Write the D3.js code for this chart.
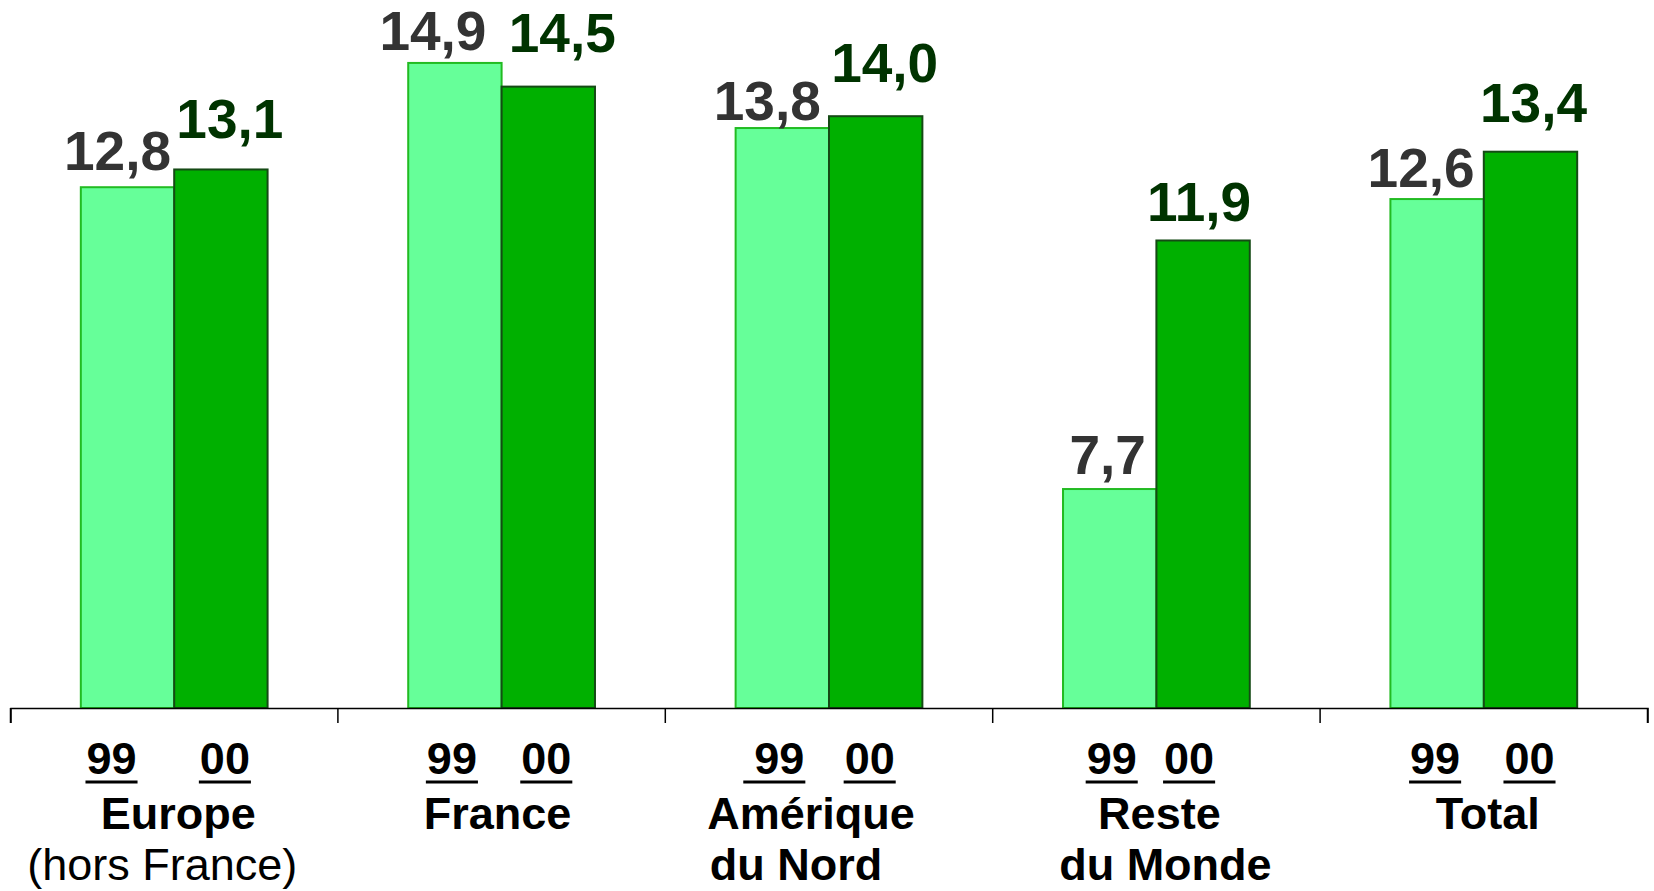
<!DOCTYPE html>
<html><head><meta charset="utf-8">
<script src="https://cdn.jsdelivr.net/npm/d3@7"></script>
<style>
html,body{margin:0;padding:0;background:#fff;overflow:hidden}
text{font-family:"Liberation Sans",Arial,sans-serif}
</style></head>
<body><svg id="c" width="1654" height="891"></svg>
<script>
const categories = ["Europe", "France", "Amérique", "Reste", "Total"];
const categoryLine2 = ["(hors France)", "", "du Nord", "du Monde", ""];
const years = ["99", "00"];
const values99 = [12.8, 14.9, 13.8, 7.7, 12.6];
const values00 = [13.1, 14.5, 14.0, 11.9, 13.4];
const labels99 = ["12,8", "14,9", "13,8", "7,7", "12,6"];
const labels00 = ["13,1", "14,5", "14,0", "11,9", "13,4"];
const yDomain = [4, 16];

const svg = d3.select("#c");
const axisY = 708;
const x0 = d3.scaleBand().domain(categories).range([10.5, 1647.5]).paddingInner(0).paddingOuter(0);
const x1 = d3.scaleBand().domain(years).range([0, x0.bandwidth()]).paddingInner(0).paddingOuter(0.753);
const y = d3.scaleLinear().domain(yDomain).range([axisY, axisY - 12 * 59.18]);

const fills = {"99": "#66ff99", "00": "#00b000"};
const strokes = {"99": "#22bb22", "00": "#154a15"};
const labelColors = {"99": "#333333", "00": "#003300"};

// layout nudges for value labels (dx from bar centre, gap above bar top)
const valNudge = {
  "Europe":   {"99": [-10, 17], "00": [9, 31]},
  "France":   {"99": [-22, 13], "00": [14, 35]},
  "Amérique": {"99": [-15, 8],  "00": [9, 34]},
  "Reste":    {"99": [-2, 15],  "00": [-4, 19]},
  "Total":    {"99": [-16, 12], "00": [3, 30]}
};
// year label nudges (dx, extra underline on the left)
const yrNudge = {
  "Europe": {"99": [-16, 0], "00": [4, 0]},
  "France": {"99": [-3, 0], "00": [-2, 0]},
  "Amérique": {"99": [-3, 10], "00": [-6, 0]},
  "Reste": {"99": [2, 0], "00": [-14, 0]},
  "Total": {"99": [-2, 0], "00": [-1, 0]}
};
const catNudge = {"Europe": [4, -12], "France": [-4, 0], "Amérique": [-18, -33], "Reste": [3, 9], "Total": [4, 0]};

const rows = categories.map((c, i) => ({cat: c, line2: categoryLine2[i],
  vals: [{cat: c, yr: "99", v: values99[i], lab: labels99[i]}, {cat: c, yr: "00", v: values00[i], lab: labels00[i]}]}));

const g = svg.selectAll("g.grp").data(rows).join("g").attr("class", "grp")
  .attr("transform", d => `translate(${x0(d.cat)},0)`);

g.selectAll("rect").data(d => d.vals).join("rect")
  .attr("x", d => x1(d.yr)).attr("width", x1.bandwidth())
  .attr("y", d => y(d.v)).attr("height", d => axisY - y(d.v))
  .attr("fill", d => fills[d.yr]).attr("stroke", d => strokes[d.yr]).attr("stroke-width", 2);

g.selectAll("text.val").data(d => d.vals).join("text").attr("class", "val")
  .attr("x", d => x1(d.yr) + x1.bandwidth() / 2 + valNudge[d.cat][d.yr][0])
  .attr("y", d => y(d.v) - valNudge[d.cat][d.yr][1])
  .attr("text-anchor", "middle").attr("font-size", 55).attr("font-weight", "bold")
  .attr("fill", d => labelColors[d.yr]).text(d => d.lab);

// axis
const axis = d3.axisBottom(x0).tickSizeInner(15).tickSizeOuter(15).tickFormat("");
const ag = svg.append("g").attr("transform", `translate(0,${axisY})`).call(axis);
ag.select(".domain").attr("stroke", "#000").attr("stroke-width", 1.5);
ag.selectAll(".tick").remove();
const bounds = categories.map(c => x0(c)).concat([x0.range()[1]]);
ag.selectAll("line.b").data(bounds).join("line").attr("class", "b")
  .attr("x1", d => d).attr("x2", d => d).attr("y1", 0).attr("y2", 15)
  .attr("stroke", "#000").attr("stroke-width", 1.5);

// year labels underlined
const yl = g.selectAll("g.yr").data(d => d.vals).join("g").attr("class", "yr");
yl.append("text").attr("x", d => x1(d.yr) + x1.bandwidth() / 2 + yrNudge[d.cat][d.yr][0]).attr("y", 774)
  .attr("text-anchor", "middle").attr("font-size", 45).attr("font-weight", "bold")
  .attr("fill", "#000").text(d => d.yr)
  .each(function(d) {
    const bb = this.getBBox();
    d3.select(this.parentNode).append("line")
      .attr("x1", bb.x - 1 - yrNudge[d.cat][d.yr][1]).attr("x2", bb.x + bb.width + 1)
      .attr("y1", 782).attr("y2", 782).attr("stroke", "#000").attr("stroke-width", 3);
  });

g.append("text").attr("x", d => x0.bandwidth() / 2 + catNudge[d.cat][0]).attr("y", 829)
  .attr("text-anchor", "middle").attr("font-size", 45).attr("font-weight", "bold")
  .attr("fill", "#000").text(d => d.cat);
g.append("text").attr("x", d => x0.bandwidth() / 2 + catNudge[d.cat][1]).attr("y", 880)
  .attr("text-anchor", "middle").attr("font-size", 45)
  .attr("font-weight", d => d.cat === "Europe" ? "normal" : "bold")
  .attr("fill", "#000").text(d => d.line2);
</script></body></html>
